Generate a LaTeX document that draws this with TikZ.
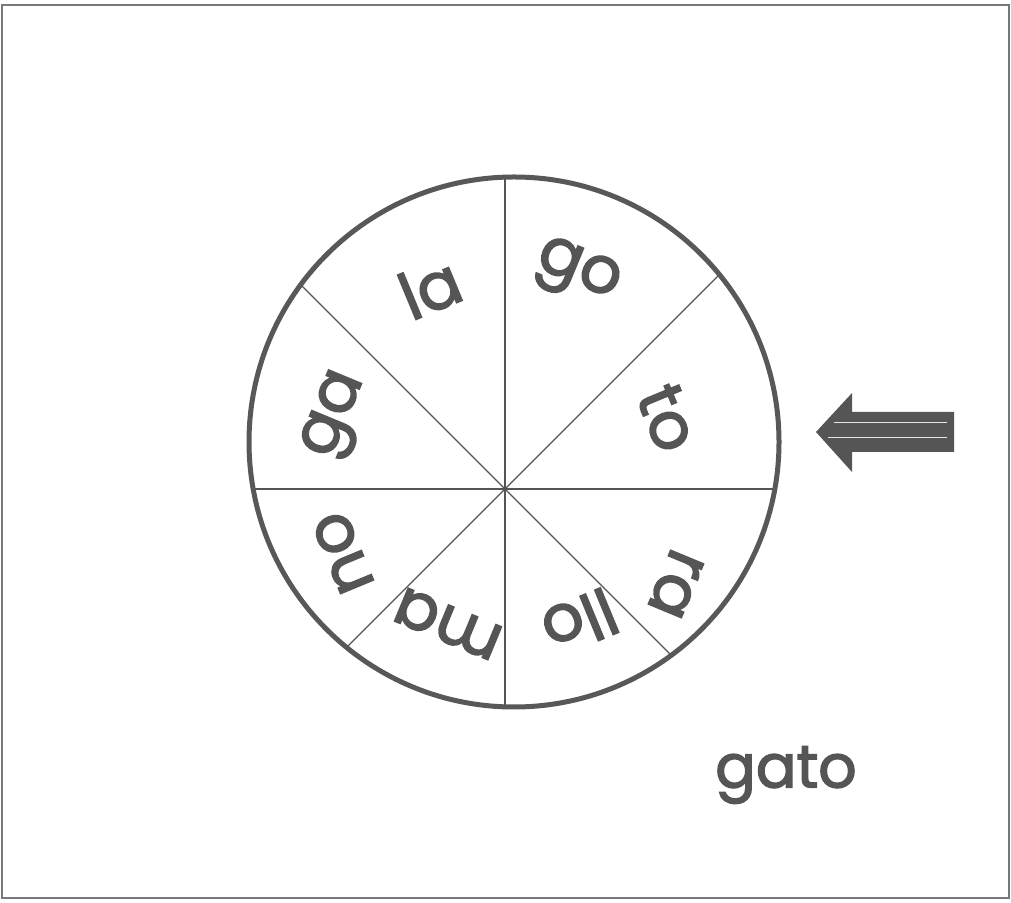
\documentclass[tikz,border=0pt]{standalone}
\usepackage{fontspec}
\newfontfamily\geo{Poppins}[FakeBold=2.4]
\definecolor{ink}{RGB}{85,85,85}
\definecolor{rim}{RGB}{88,88,88}
\definecolor{frame}{RGB}{120,120,120}
\tikzset{
  lbl/.style={text=ink, inner sep=0pt, font=\geo\fontsize{65}{68}\selectfont},
  word/.style={text=ink, inner sep=0pt, font=\geo\fontsize{60}{64}\selectfont},
  spoke/.style={draw=ink, line width=1.3pt},
}
\begin{document}
\begin{tikzpicture}[x=1pt,y=1pt]
\useasboundingbox (0,0) rectangle (1011,902);
% frame
\draw[frame, line width=1.6pt] (2,4) rectangle (1009,897);
% wheel
\coordinate (C) at (514,460);
\coordinate (H) at (505,413);
\begin{scope}
  \clip (C) circle (265);
  \foreach \a in {0,45,...,315} {
    \draw[spoke] (H) -- ++(\a:340);
  }
\end{scope}
\draw[rim, line width=5pt] (C) circle (265);
% syllables
\node[lbl, rotate=-22.5]  (go)  at (577,628) {go};
\node[lbl, rotate=22.5]   (la)  at (430,614) {la};
\node[lbl, rotate=67.5]   (ga)  at (338,486) {ga};
\node[lbl, rotate=-67.5]  (to)  at (668,484) {to};
\node[lbl, rotate=-112.5] (ra)  at (676,318) {ra};
\node[lbl, rotate=202.5]  (llo) at (580,280) {llo};
\node[lbl, rotate=157.5]  (ma)  at (448,278) {ma};
\node[lbl, rotate=112.5]  (no)  at (343,349) {no};
% arrow
\fill[ink] (816,470) -- (852,509) -- (852,490) -- (954,490) -- (954,450) -- (852,450) -- (852,430) -- cycle;
\draw[white!85!ink, line width=0.8pt] (834,480) -- (947,480);
\draw[white!85!ink, line width=0.8pt] (828,465) -- (947,465);
% word
\node[word] (gato) at (786,127) {gato};
\end{tikzpicture}
\end{document}
